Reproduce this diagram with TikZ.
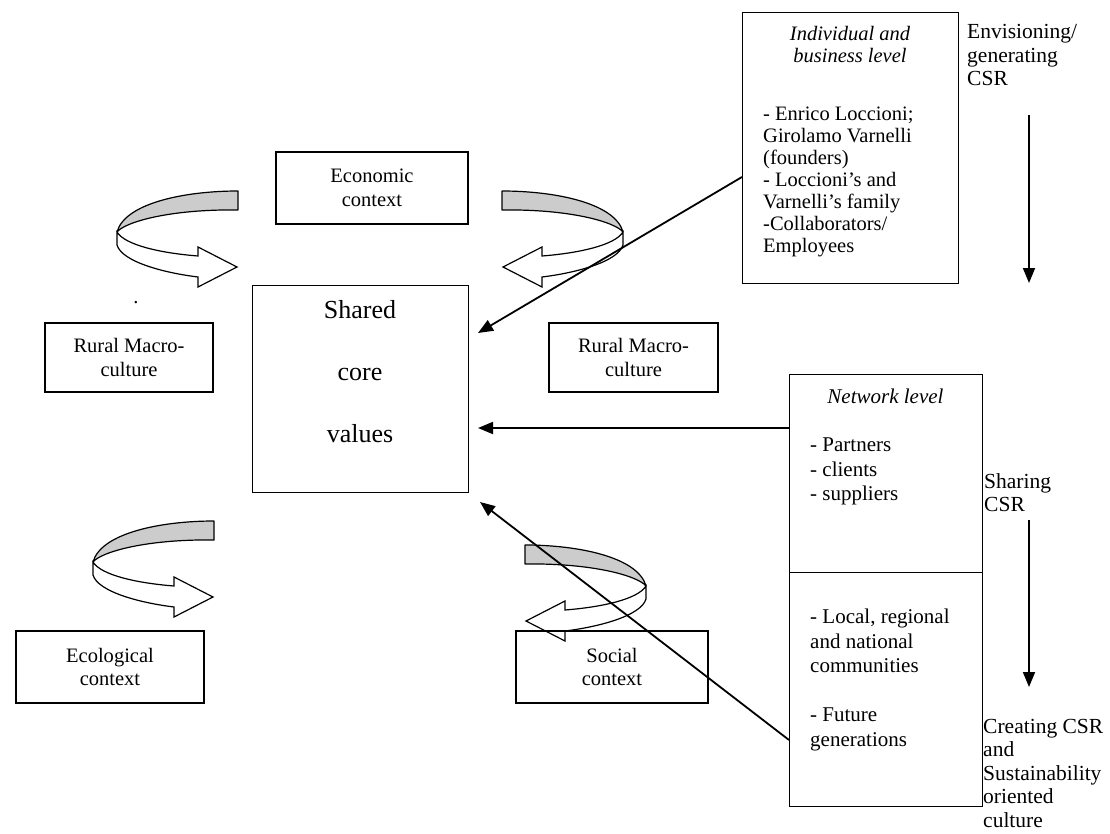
\documentclass[tikz,border=0pt]{standalone}
\usepackage{fontspec}
\setmainfont{Liberation Serif}
\usetikzlibrary{arrows.meta}
\tikzset{
  box/.style={draw, line width=1.3pt, inner sep=0pt, align=center},
  ctx/.style={box, font=\fontsize{20.5}{23.5}\selectfont},
  txt/.style={inner sep=0pt},
  conn/.style={line width=1.8pt, -{Triangle[length=15pt,width=12pt]}},
  ribbonback/.style={fill=black!20, draw, line width=1.2pt, line join=round},
  ribbonfront/.style={fill=white, draw, line width=1.2pt, line join=miter}
}
\newcommand\curvedribbon{%
  \filldraw[ribbonback]
    (1,-76) .. controls (-52,-76) and (-112,-64) .. (-120,-35)
    .. controls (-112,-45) and (-67,-58) .. (1,-57) -- cycle;
  \filldraw[ribbonfront]
    (-120,-35) -- (-120,-22) .. controls (-115,-5) and (-72,6) .. (-39,10)
    -- (-39,20) -- (0,0) -- (-39,-20) -- (-39,-11)
    .. controls (-77,-14) and (-112,-22) .. (-120,-35) -- cycle;
}
\begin{document}
\begin{tikzpicture}[x=1pt,y=-1pt]
\useasboundingbox (0,0) rectangle (1110,834);

% curved arrows
\begin{scope}[shift={(237,267)}] \curvedribbon \end{scope}
\begin{scope}[shift={(503,267)}, xscale=-1] \curvedribbon \end{scope}
\begin{scope}[shift={(213,597)}] \curvedribbon \end{scope}
\begin{scope}[shift={(526,621)}, xscale=-1] \curvedribbon \end{scope}

% context boxes
\node[ctx, minimum width=192pt, minimum height=72pt] (econ) at (372,188) {Economic\\context};
\node[ctx, minimum width=168pt, minimum height=69pt] (rurL) at (129,357.5) {Rural Macro-\\culture};
\node[ctx, minimum width=169pt, minimum height=69pt] (rurR) at (633.5,357.5) {Rural Macro-\\culture};
\node[ctx, minimum width=188pt, minimum height=72pt] (ecol) at (110,667) {Ecological\\context};
\node[ctx, minimum width=192pt, minimum height=72pt] (soc) at (612,667) {Social\\context};
\node[txt, anchor=base, font=\fontsize{20.5}{23.5}\selectfont] (dot) at (136,303) {.};

% shared core values
\node[box, minimum width=216pt, minimum height=207pt, anchor=north west] (shared) at (252,285) {};
\node[txt, align=center, anchor=north, font=\fontsize{26}{62}\selectfont] (sharedtxt) at (360,300) {Shared\\core\\values};

% individual and business level
\node[box, minimum width=216pt, minimum height=271pt, anchor=north west] (ind) at (742,12) {};
\node[txt, align=center, anchor=north, font=\fontsize{20.5}{22}\selectfont\itshape] (indhead) at (850,26) {Individual and\\business level};
\node[txt, align=left, anchor=north west, font=\fontsize{20.5}{22}\selectfont] (indbody) at (763,107)
  {- Enrico Loccioni;\\Girolamo Varnelli\\(founders)\\- Loccioni’s and\\Varnelli’s family\\-Collaborators/\\Employees};

% network level
\node[box, minimum width=193pt, minimum height=198pt, anchor=north west] (netA) at (789,374) {};
\node[box, minimum width=193pt, minimum height=234pt, anchor=north west] (netB) at (789,572) {};
\node[txt, align=center, anchor=north, font=\fontsize{21}{24.5}\selectfont\itshape] (nethead) at (885.5,388.5) {Network level};
\node[txt, align=left, anchor=north west, font=\fontsize{21}{24.5}\selectfont] (netAbody) at (810,438) {- Partners\\- clients\\- suppliers};
\node[txt, align=left, anchor=north west, font=\fontsize{21}{24.5}\selectfont] (netBbody) at (810,609)
  {- Local, regional\\and national\\communities\\[24.5pt]- Future\\generations};

% side texts
\node[txt, align=left, anchor=north west, font=\fontsize{21.5}{23.5}\selectfont] (env) at (967,24.5) {Envisioning/\\generating\\CSR};
\node[txt, align=left, anchor=north west, font=\fontsize{21.5}{23.5}\selectfont] (shr) at (984,473) {Sharing\\CSR};
\node[txt, align=left, anchor=north west, font=\fontsize{21.5}{23.5}\selectfont] (cre) at (983,719) {Creating CSR\\and\\Sustainability\\oriented\\culture};

% side arrows
\coordinate (v1a) at (1029,115);
\coordinate (v1b) at (1029,283);
\coordinate (v2a) at (1029,520);
\coordinate (v2b) at (1029,687);
\draw[conn] (v1a) -- (v1b);
\draw[conn] (v2a) -- (v2b);

% connectors into shared core values
\coordinate (tipA) at (478,333);
\coordinate (tipB) at (478,428);
\coordinate (tipC) at (480,502);
\draw[conn] (ind.west |- 0,177) -- (tipA);
\draw[conn] (netA.west |- 0,428) -- (tipB);
\draw[conn] (netB.west |- 0,740) -- (tipC);
\end{tikzpicture}
\end{document}
